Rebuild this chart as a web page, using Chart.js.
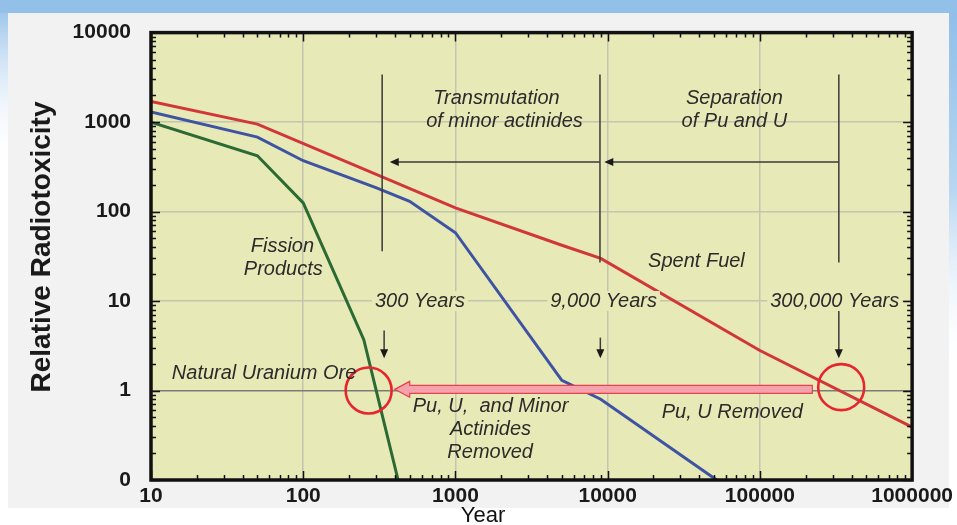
<!DOCTYPE html>
<html lang="en">
<head>
<meta charset="UTF-8">
<title>Relative Radiotoxicity</title>
<script src="https://cdn.jsdelivr.net/npm/chart.js"></script>
<style>
  html, body { margin: 0; padding: 0; background: #fff; }
  canvas { display: block; }
</style>
</head>
<body>
<canvas id="myChart" width="957" height="525"></canvas>
<script>
// curves (year, relative radiotoxicity)
const spentYears = [10, 50, 1000, 5000, 9000, 100000, 1000000];
const spentTox = [1700, 950, 110, 42, 30, 2.8, 0.39];
const puuYears = [10, 50, 100, 300, 500, 1000, 5000, 9000, 52000];
const puuTox = [1300, 680, 370, 185, 130, 58, 1.3, 0.8, 0.1];
const fissionYears = [10, 50, 100, 250, 420];
const fissionTox = [1000, 420, 125, 3.7, 0.1];

const xTicks = [10, 100, 1000, 10000, 100000, 1000000];
const xTickLabels = ['10', '100', '1000', '10000', '100000', '1000000'];
const yTicks = [0.1, 1, 10, 100, 1000, 10000];
const yTickLabels = ['0', '1', '10', '100', '1000', '10000'];

// notes placed in data space (year, value)
const notes = [
  { t: 'Transmutation', x: 1860, y: 1840 },
  { t: 'of minor actinides', x: 2100, y: 1020 },
  { t: 'Separation', x: 68000, y: 1840 },
  { t: 'of Pu and U', x: 68000, y: 1020 },
  { t: 'Fission', x: 73, y: 41 },
  { t: 'Products', x: 74, y: 22.4 },
  { t: 'Spent Fuel', x: 38300, y: 28 },
  { t: 'Pu, U,  and Minor', x: 1700, y: 0.667 },
  { t: 'Actinides', x: 1700, y: 0.37 },
  { t: 'Removed', x: 1690, y: 0.205 },
  { t: 'Pu, U Removed', x: 65900, y: 0.571 }
];
const yearNotes = [
  { t: '300 Years', x: 585, y: 10 },
  { t: '9,000 Years', x: 9400, y: 10 },
  { t: '300,000 Years', x: 310000, y: 10 }
];
const dividers = [
  { x: 330, top: 3400, bottom: 36 },
  { x: 8900, top: 3400, bottom: 27 },
  { x: 330000, top: 3400, bottom: 27 }
];
const downArrows = [
  { x: 340, top: 4.7, tip: 2.3 },
  { x: 8950, top: 3.9, tip: 2.3 },
  { x: 330000, top: 7.8, tip: 2.3 }
];
const leftArrows = [
  { from: 330000, to: 9500, y: 357 },
  { from: 8900, to: 370, y: 357 }
];
const circles = [
  { x: 269, y: 1.0 },
  { x: 342000, y: 1.09 }
];

const plotBg = '#e7e9b6';

function pts(xs, ys) {
  return xs.map((x, i) => ({ x: x, y: ys[i] }));
}

const decor = {
  id: 'decor',
  beforeDraw(chart) {
    const c = chart.ctx, W = chart.width, H = chart.height, a = chart.chartArea;
    c.save();
    c.fillStyle = '#ffffff';
    c.fillRect(0, 0, W, H);
    let g = c.createLinearGradient(0, 0, 0, 170);
    g.addColorStop(0, '#8fbde8');
    g.addColorStop(1, 'rgba(255,255,255,0)');
    c.fillStyle = g;
    c.fillRect(0, 0, W, 170);
    g = c.createLinearGradient(0, 0, 0, 380);
    g.addColorStop(0, '#8fbde8');
    g.addColorStop(0.5, '#b8d6f0');
    g.addColorStop(1, 'rgba(255,255,255,0)');
    c.fillStyle = g;
    c.fillRect(949, 0, 8, 380);
    c.fillStyle = '#93c0e9';
    c.fillRect(0, 0, W, 13);
    c.fillStyle = '#f2f2f2';
    c.fillRect(8, 13, 941, 495);
    c.fillStyle = plotBg;
    c.fillRect(a.left, a.top, a.right - a.left, a.bottom - a.top);
    c.restore();
  },
  afterDatasetsDraw(chart) {
    const c = chart.ctx, sx = chart.scales.x, sy = chart.scales.y;
    const X = v => sx.getPixelForValue(v), Y = v => sy.getPixelForValue(v);
    c.save();
    c.strokeStyle = '#3a3a3a';
    c.fillStyle = '#1a1a1a';
    c.lineWidth = 1.5;
    dividers.forEach(d => {
      c.beginPath();
      c.moveTo(X(d.x), Y(d.top));
      c.lineTo(X(d.x), Y(d.bottom));
      c.stroke();
    });
    leftArrows.forEach(r => {
      const y = Y(r.y), x0 = X(r.from), x1 = X(r.to);
      c.beginPath();
      c.moveTo(x0, y);
      c.lineTo(x1 + 6, y);
      c.stroke();
      c.beginPath();
      c.moveTo(x1, y);
      c.lineTo(x1 + 9, y - 4);
      c.lineTo(x1 + 9, y + 4);
      c.closePath();
      c.fill();
    });
    downArrows.forEach(r => {
      const x = X(r.x), y0 = Y(r.top), y1 = Y(r.tip);
      c.beginPath();
      c.moveTo(x, y0);
      c.lineTo(x, y1 - 6);
      c.stroke();
      c.beginPath();
      c.moveTo(x, y1);
      c.lineTo(x - 4, y1 - 9);
      c.lineTo(x + 4, y1 - 9);
      c.closePath();
      c.fill();
    });

    // pink arrow back to natural uranium ore level
    const ay = Y(1.03), ax0 = X(221000), ax1 = X(399);
    c.beginPath();
    c.moveTo(ax0, ay - 4);
    c.lineTo(ax1 + 15, ay - 4);
    c.lineTo(ax1 + 15, ay - 8);
    c.lineTo(ax1, ay);
    c.lineTo(ax1 + 15, ay + 8);
    c.lineTo(ax1 + 15, ay + 4);
    c.lineTo(ax0, ay + 4);
    c.closePath();
    c.fillStyle = '#f4a3ad';
    c.fill();
    c.strokeStyle = '#e8404e';
    c.lineWidth = 1.2;
    c.stroke();

    c.strokeStyle = '#e5262f';
    c.lineWidth = 2.6;
    circles.forEach(o => {
      c.beginPath();
      c.arc(X(o.x), Y(o.y), 23, 0, Math.PI * 2);
      c.stroke();
    });

    c.font = 'italic 20px "Liberation Sans", Arial, sans-serif';
    c.textAlign = 'center';
    c.textBaseline = 'middle';
    c.fillStyle = '#2b2b2b';
    notes.forEach(n => c.fillText(n.t, X(n.x), Y(n.y)));
    yearNotes.forEach(n => {
      const w = c.measureText(n.t).width;
      c.fillStyle = plotBg;
      c.fillRect(X(n.x) - w / 2 - 3, Y(n.y) - 10, w + 6, 20);
      c.fillStyle = '#2b2b2b';
      c.fillText(n.t, X(n.x), Y(n.y));
    });
    c.textAlign = 'left';
    c.fillText('Natural Uranium Ore', X(13.7), Y(1.556));
    c.restore();
  },
  afterDraw(chart) {
    const c = chart.ctx, a = chart.chartArea, sx = chart.scales.x, sy = chart.scales.y;
    c.save();
    c.strokeStyle = '#111';
    c.lineWidth = 1.5;
    c.beginPath();
    for (let d = 10; d < 1000000; d *= 10) {
      for (let k = 1; k < 10; k++) {
        const x = Math.round(sx.getPixelForValue(d * k)) + 0.5;
        const len = k === 1 ? 9 : 5;
        c.moveTo(x, a.bottom); c.lineTo(x, a.bottom - len);
        c.moveTo(x, a.top); c.lineTo(x, a.top + len);
      }
    }
    for (let d = 0.1; d < 10000; d *= 10) {
      for (let k = 1; k < 10; k++) {
        const y = Math.round(sy.getPixelForValue(d * k)) + 0.5;
        const len = k === 1 ? 9 : 5;
        c.moveTo(a.left, y); c.lineTo(a.left + len, y);
        c.moveTo(a.right, y); c.lineTo(a.right - len, y);
      }
    }
    c.stroke();
    c.lineWidth = 3.5;
    c.strokeRect(a.left, a.top, a.right - a.left, a.bottom - a.top);

    c.fillStyle = '#1a1a1a';
    c.font = 'bold 28px "Liberation Sans", Arial, sans-serif';
    c.textAlign = 'center';
    c.textBaseline = 'middle';
    c.translate(42, 247);
    c.rotate(-Math.PI / 2);
    c.fillText('Relative Radiotoxicity', 0, 0);
    c.restore();

    c.save();
    c.fillStyle = '#111';
    c.font = '22px "Liberation Sans", Arial, sans-serif';
    c.textAlign = 'center';
    c.textBaseline = 'middle';
    c.fillText('Year', 483, 516);
    c.restore();
  }
};

const tickFont = { family: '"Liberation Sans", Arial, sans-serif', size: 21, weight: 'bold' };

new Chart(document.getElementById('myChart').getContext('2d'), {
  type: 'line',
  data: {
    datasets: [
      { label: 'Spent Fuel', data: pts(spentYears, spentTox), borderColor: '#d1363a', borderWidth: 3 },
      { label: 'Pu, U Removed', data: pts(puuYears, puuTox), borderColor: '#3f53a3', borderWidth: 3 },
      { label: 'Fission Products', data: pts(fissionYears, fissionTox), borderColor: '#2c6a34', borderWidth: 3 }
    ]
  },
  options: {
    responsive: false,
    animation: false,
    devicePixelRatio: 1,
    layout: { padding: { top: 31, right: 44, left: 0, bottom: 0 } },
    elements: { point: { radius: 0 }, line: { tension: 0 } },
    plugins: { legend: { display: false }, tooltip: { enabled: false } },
    scales: {
      x: {
        type: 'logarithmic',
        min: 10,
        max: 1000000,
        afterBuildTicks: s => { s.ticks = xTicks.map(v => ({ value: v })); },
        afterFit: s => { s.height = 45; },
        ticks: {
          font: tickFont,
          color: '#1a1a1a',
          padding: 4,
          maxRotation: 0,
          autoSkip: false,
          callback: (v) => xTickLabels[xTicks.indexOf(v)]
        },
        grid: { color: '#c4c5ae', lineWidth: 1.5, drawTicks: false },
        border: { display: false }
      },
      y: {
        type: 'logarithmic',
        min: 0.1,
        max: 10000,
        afterBuildTicks: s => { s.ticks = yTicks.map(v => ({ value: v })); },
        afterFit: s => { s.width = 151; },
        ticks: {
          font: tickFont,
          color: '#1a1a1a',
          padding: 20,
          autoSkip: false,
          callback: (v) => yTickLabels[yTicks.indexOf(v)]
        },
        grid: {
          color: c => (c.tick && c.tick.value === 1 ? '#7d7d76' : '#c4c5ae'),
          lineWidth: 1.5,
          drawTicks: false
        },
        border: { display: false }
      }
    }
  },
  plugins: [decor]
});
</script>
</body>
</html>
